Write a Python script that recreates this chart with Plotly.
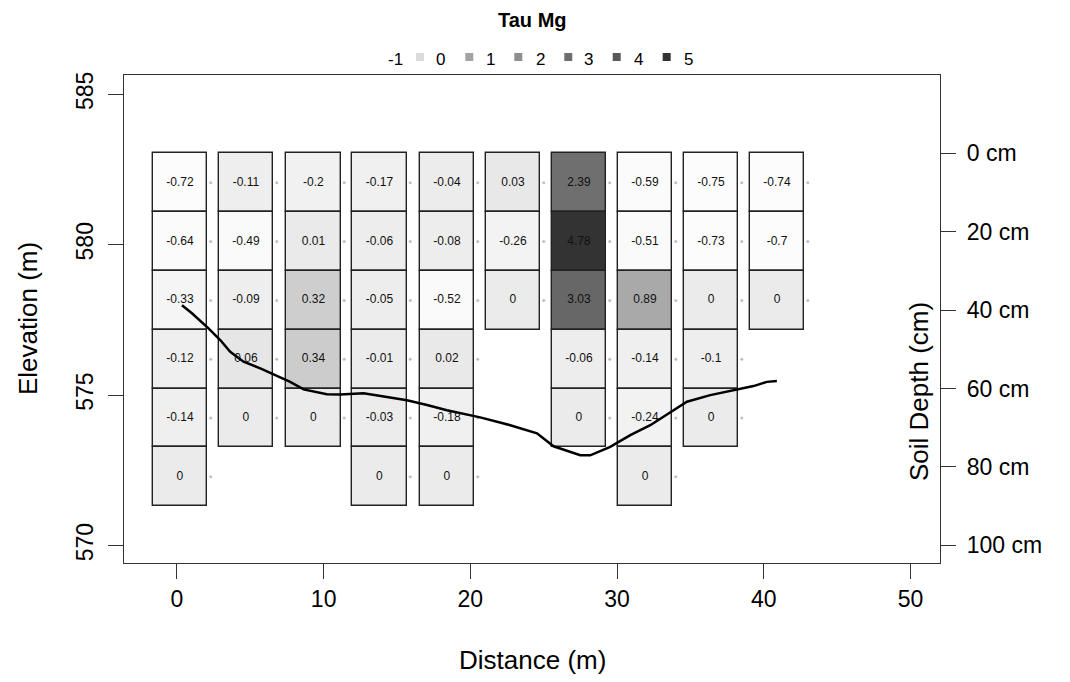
import plotly.graph_objects as go

# ---------------- data ----------------
distances = [0.2, 4.7, 9.3, 13.8, 18.4, 22.9, 27.4, 31.9, 36.4, 40.9]   # m
layer_top_cm = [0, 15, 30, 45, 60, 75]                                   # soil depth of layer tops
layer_thickness_cm = 15

tau_col1 = [-0.72, -0.64, -0.33, -0.12, -0.14, 0]
tau_col2 = [-0.11, -0.49, -0.09, 0.06, 0]
tau_col3 = [-0.2, 0.01, 0.32, 0.34, 0]
tau_col4 = [-0.17, -0.06, -0.05, -0.01, -0.03, 0]
tau_col5 = [-0.04, -0.08, -0.52, 0.02, -0.18, 0]
tau_col6 = [0.03, -0.26, 0]
tau_col7 = [2.39, 4.78, 3.03, -0.06, 0]
tau_col8 = [-0.59, -0.51, 0.89, -0.14, -0.24, 0]
tau_col9 = [-0.75, -0.73, 0, -0.1, 0]
tau_col10 = [-0.74, -0.7, 0]
tau_columns = [tau_col1, tau_col2, tau_col3, tau_col4, tau_col5,
               tau_col6, tau_col7, tau_col8, tau_col9, tau_col10]

profile_x = [0.34, 1.02, 2.15, 2.95, 3.63, 4.54, 5.68, 6.82, 7.72, 8.63, 10.22, 11.13,
             12.72, 14.31, 15.68, 17.04, 18.40, 20.67, 22.72, 24.54, 25.67, 27.49, 28.17,
             29.53, 30.90, 32.26, 33.62, 34.76, 36.35, 38.17, 39.30, 40.21, 40.89]
profile_elev = [577.99, 577.72, 577.22, 576.83, 576.44, 576.11, 575.89, 575.63, 575.44,
                575.19, 575.03, 575.02, 575.06, 574.94, 574.83, 574.67, 574.50, 574.26,
                574.00, 573.73, 573.30, 573.00, 573.00, 573.28, 573.67, 574.00, 574.44,
                574.78, 575.00, 575.17, 575.30, 575.44, 575.47]

x_ticks = [0, 10, 20, 30, 40, 50]
elev_ticks = [570, 575, 580, 585]
depth_ticks = [0, 20, 40, 60, 80, 100]
depth_ticklabels = ["0 cm", "20 cm", "40 cm", "60 cm", "80 cm", "100 cm"]
legend_labels = ["-1", "0", "1", "2", "3", "4", "5"]
legend_colors = ["#dcdcdc", "#a3a3a3", "#8f8f8f", "#6e6e6e", "#585858", "#333333"]

# ---------------- style ----------------
FONT = "Liberation Sans, Arial, sans-serif"
grey_scale = [[0.0, "rgb(255,255,255)"], [0.0833, "rgb(250,250,250)"],
              [0.1667, "rgb(235,235,235)"], [0.2217, "rgb(205,205,205)"],
              [0.315, "rgb(169,169,169)"], [0.565, "rgb(111,111,111)"],
              [0.672, "rgb(103,103,103)"], [0.9633, "rgb(51,51,51)"],
              [1.0, "rgb(45,45,45)"]]
CELL_WIDTH = 3.7
DOT_OFFSET = 2.1
L, R, T, B = 124, 130, 75, 119
PW, PH = 1070 - L - R, 682 - T - B


def px_x(px):
    return (px - L) / PW


def px_y(py):
    return (682 - B - py) / PH


fig = go.Figure()

n_rows = max(len(c) for c in tau_columns)
for r in range(n_rows):
    xs, vals = [], []
    for d, col in zip(distances, tau_columns):
        if r < len(col):
            xs.append(d)
            vals.append(col[r])
    fig.add_trace(go.Bar(
        x=xs, y=[layer_thickness_cm] * len(xs), base=[layer_top_cm[r]] * len(xs),
        width=CELL_WIDTH, yaxis="y", xaxis="x",
        marker=dict(color=vals, colorscale=grey_scale, cmin=-1, cmax=5,
                    line=dict(color="#222222", width=1.4)),
        showlegend=False, hoverinfo="skip"))

# sample dots and labels
dot_x, dot_y, txt_x, txt_y, txt = [], [], [], [], []
for d, col in zip(distances, tau_columns):
    for r, v in enumerate(col):
        mid = layer_top_cm[r] + layer_thickness_cm / 2
        dot_x.append(d + DOT_OFFSET)
        dot_y.append(mid)
        txt_x.append(d)
        txt_y.append(mid)
        txt.append(f"{v:g}")

fig.add_trace(go.Scatter(x=dot_x, y=dot_y, mode="markers", yaxis="y",
                         marker=dict(size=3, color="#b3c3d1"),
                         showlegend=False, hoverinfo="skip"))
fig.add_trace(go.Scatter(x=txt_x, y=txt_y, mode="text", text=txt, yaxis="y",
                         textfont=dict(family=FONT, size=12, color="#111111"),
                         showlegend=False, hoverinfo="skip"))

# ground profile on elevation axis
fig.add_trace(go.Scatter(x=profile_x, y=profile_elev, mode="lines", yaxis="y2",
                         line=dict(color="black", width=2.5),
                         showlegend=False, hoverinfo="skip"))

axis_common = dict(showgrid=False, zeroline=False, ticks="outside", ticklen=15,
                   tickcolor="#333333", tickwidth=1.3,
                   tickfont=dict(family=FONT, size=23, color="black"))

fig.update_layout(
    width=1070, height=682,
    margin=dict(l=L, r=R, t=T, b=B),
    paper_bgcolor="white", plot_bgcolor="white",
    bargap=0, barmode="overlay",
    xaxis=dict(range=[-3.61, 52.01], tickvals=x_ticks, showline=True, mirror=True,
               linecolor="#333333", linewidth=1.3, **axis_common),
    yaxis=dict(range=[104.5, -20], side="right", tickvals=depth_ticks,
               ticktext=depth_ticklabels, showline=True, mirror=True,
               linecolor="#333333", linewidth=1.3, ticklabelstandoff=6,
               **axis_common),
    yaxis2=dict(range=[569.42, 585.64], overlaying="y", side="left",
                tickvals=elev_ticks, tickangle=-90, showline=False,
                ticklabelstandoff=6, **axis_common),
)

title_font = dict(family=FONT, size=26, color="black")
annotations = [
    dict(text="Distance (m)", x=px_x(532), y=px_y(660), xref="paper", yref="paper",
         xanchor="center", yanchor="middle", showarrow=False, font=title_font),
    dict(text="Elevation (m)", x=px_x(28), y=0.5, xref="paper", yref="paper",
         xanchor="center", yanchor="middle", textangle=-90,
         showarrow=False, font=title_font),
    dict(text="Soil Depth (cm)", x=px_x(919), y=px_y(392), xref="paper", yref="paper",
         xanchor="center", yanchor="middle", textangle=-90,
         showarrow=False, font=title_font),
    dict(text="<b>Tau Mg</b>", x=px_x(532), y=px_y(20), xref="paper", yref="paper",
         xanchor="center", yanchor="middle", showarrow=False,
         font=dict(family=FONT, size=20, color="black")),
]

label_px = [395, 440.7, 490, 540, 588.3, 638.3, 688.3]
square_px = [420, 469.3, 518.3, 568.3, 616.7, 666.7]
for lab, px in zip(legend_labels, label_px):
    annotations.append(dict(text=lab, x=px_x(px), y=px_y(60), xref="paper", yref="paper",
                            xanchor="center", yanchor="middle", showarrow=False,
                            font=dict(family=FONT, size=17, color="black")))
shapes = []
for col, px in zip(legend_colors, square_px):
    shapes.append(dict(type="rect", xref="paper", yref="paper",
                       x0=px_x(px - 4), x1=px_x(px + 4),
                       y0=px_y(61), y1=px_y(53),
                       fillcolor=col, line=dict(width=0)))
fig.update_layout(annotations=annotations, shapes=shapes)

fig.write_html("out.html")
